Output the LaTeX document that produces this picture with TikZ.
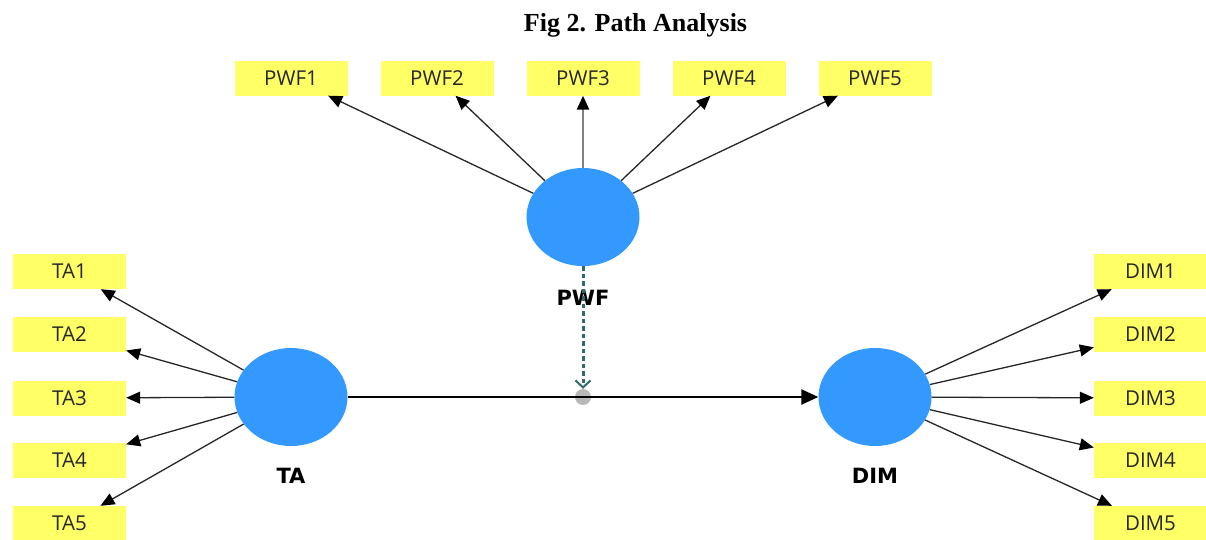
\documentclass[tikz,border=0pt]{standalone}
\usepackage{fontspec}
\setmainfont{Liberation Serif}
\newfontfamily\boxfont{Open Sans}
\newfontfamily\labfont{DejaVu Sans}
\usetikzlibrary{arrows.meta,shapes.geometric}
\definecolor{boxyellow}{HTML}{FFFF66}
\definecolor{latblue}{HTML}{3399FF}
\definecolor{modteal}{HTML}{2F6B6E}
\definecolor{dotgray}{HTML}{B8B8B8}
\tikzset{
  ind/.style={fill=boxyellow, minimum width=113pt, minimum height=35pt, inner sep=0pt,
    font=\boxfont\fontsize{20.5}{22}\selectfont, text=black!85},
  lat/.style={ellipse, fill=latblue, minimum width=113pt, minimum height=98pt, inner sep=0pt},
  latlabel/.style={font=\labfont\bfseries\fontsize{21}{23}\selectfont, text=black},
  load/.style={draw=black!85, line width=1.3pt, -{Triangle[length=14pt,width=12pt,color=black]}},
  mainpath/.style={draw=black, line width=2.5pt, -{Triangle[length=17pt,width=15pt]}},
  modpath/.style={draw=modteal, line width=3pt, dash pattern=on 4.5pt off 3pt,
    -{Straight Barb[length=7pt,width=15pt,line width=2pt]}}
}
\begin{document}
\begin{tikzpicture}[x=1pt,y=-1pt]
\useasboundingbox (0,0) rectangle (1206,539);
\node[font=\bfseries\fontsize{26}{28}\selectfont, anchor=base] (title) at (635.5,31) {Fig 2. Path Analysis};
% latent variables
\node[lat] (PWF) at (583,217) {};
\node[lat] (TA) at (291,397) {};
\node[lat] (DIM) at (875,397) {};
\node[latlabel] (PWFl) at (583,298) {PWF};
\node[latlabel] (TAl) at (291,476) {TA};
\node[latlabel] (DIMl) at (875,476) {DIM};
% PWF indicators
\node[ind] (PWF1) at (291,78) {PWF1};
\node[ind] (PWF2) at (437,78) {PWF2};
\node[ind] (PWF3) at (583,78) {PWF3};
\node[ind] (PWF4) at (729,78) {PWF4};
\node[ind] (PWF5) at (875,78) {PWF5};
% TA indicators
\node[ind] (TA1) at (69.5,271.5) {TA1};
\node[ind] (TA2) at (69.5,334.5) {TA2};
\node[ind] (TA3) at (69.5,398) {TA3};
\node[ind] (TA4) at (69.5,460.5) {TA4};
\node[ind] (TA5) at (69.5,523.5) {TA5};
% DIM indicators
\node[ind] (DIM1) at (1150.5,271.5) {DIM1};
\node[ind] (DIM2) at (1150.5,334.5) {DIM2};
\node[ind] (DIM3) at (1150.5,398) {DIM3};
\node[ind] (DIM4) at (1150.5,460.5) {DIM4};
\node[ind] (DIM5) at (1150.5,523.5) {DIM5};
% loadings
\draw[load] (PWF) -- (PWF1);
\draw[load] (PWF) -- (PWF2);
\draw[load, draw=black!50, line width=2.6pt] (PWF) -- (PWF3);
\draw[load] (PWF) -- (PWF4);
\draw[load] (PWF) -- (PWF5);
\foreach \i in {1,...,5} {
  \draw[load] (TA) -- (TA\i);
  \draw[load] (DIM) -- (DIM\i);
}
% structural path and moderation
\node[circle, fill=dotgray, minimum size=16pt, inner sep=0pt] (mod) at (583,397) {};
\draw[mainpath] (TA) -- (DIM);
\draw[modpath] (PWF) -- (mod.north);
\end{tikzpicture}
\end{document}
